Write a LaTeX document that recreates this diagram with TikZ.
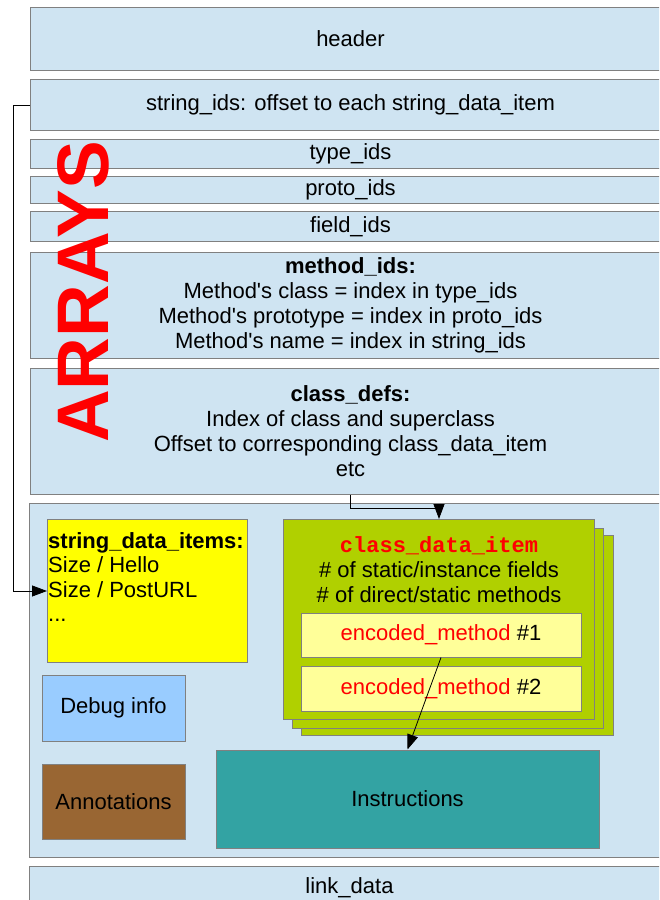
\documentclass[tikz,border=0pt]{standalone}
\usepackage{fontspec}
\setmainfont{Liberation Sans}
\newfontfamily\codefont{Liberation Mono}
\definecolor{dexblue}{RGB}{207,228,242}
\definecolor{dexgray}{RGB}{128,128,128}
\definecolor{dexgreen}{RGB}{176,208,0}
\definecolor{dexpale}{RGB}{255,255,153}
\definecolor{dexdebug}{RGB}{153,204,255}
\definecolor{dexbrown}{RGB}{153,102,51}
\definecolor{dexteal}{RGB}{51,163,163}
\definecolor{dexyellow}{RGB}{255,255,0}
\usetikzlibrary{positioning}
\usetikzlibrary{arrows.meta}
\tikzset{
  every node/.style={font=\fontsize{22}{25}\selectfont},
  band/.style={draw=dexgray, fill=dexblue, line width=1pt, anchor=north west,
    minimum width=640, inner sep=0pt, align=center},
  part/.style={draw=dexgray, line width=1pt, inner sep=0pt},
  link/.style={line width=0.8pt, -{Triangle[length=15pt,width=11pt]}}
}

\begin{document}
\begin{tikzpicture}[x=1pt, y=-1pt]
  \useasboundingbox (0,0) rectangle (659,900);
  \clip (0,0) rectangle (659,900);

  % arrays
  \node [band, minimum height=63] (header) at (30,7) {header};
  \node [band, minimum height=51] (strids) at (30,79) {string\_ids: offset to each string\_data\_item};
  \node [band, minimum height=29] (typeids) at (30,139) {type\_ids};
  \node [band, minimum height=27] (protoids) at (30,176) {proto\_ids};
  \node [band, minimum height=30] (fieldids) at (30,211) {field\_ids};
  \node [band, minimum height=106] (methodids) at (30,252) {\textbf{method\_ids:}\\
    Method\textquotesingle s class = index in type\_ids\\
    Method\textquotesingle s prototype = index in proto\_ids\\
    Method\textquotesingle s name = index in string\_ids};
  \node [band, minimum height=126] (classdefs) at (30,368) {\textbf{class\_defs:}\\
    Index of class and superclass\\
    Offset to corresponding class\_data\_item\\
    etc};

  \node [rotate=90, text=red, inner sep=0pt, font=\fontsize{73}{73}\selectfont\bfseries] (arrays) at (83,292) {ARRAYS};

  % data section
  \node [band, minimum height=354] (data) at (29,503) {};
  \node [band, minimum height=42] (linkdata) at (29,866) {link\_data};

  \node [part, fill=dexyellow, anchor=north west, minimum width=200, minimum height=143] (sdi) at (47,519) {};
  \node [anchor=north west, align=left, inner sep=1pt, font=\fontsize{22}{24.5}\selectfont] (sditext) at ([yshift=-12]sdi.north west)
    {\textbf{string\_data\_items:}\\Size / Hello\\Size / PostURL\\...};

  \node [part, fill=dexdebug, minimum width=143, minimum height=66] (debug) at (113.5,708) {Debug info};
  \node [part, fill=dexbrown, minimum width=143, minimum height=75] (annot) at (113.5,801.5) {Annotations};
  \node [part, fill=dexteal, minimum width=383, minimum height=98] (instr) at (407.5,799) {Instructions};

  % class_data_item stack
  \node [part, fill=dexgreen, anchor=north west, minimum width=312, minimum height=200] (cdi3) at (301,535) {};
  \node [part, fill=dexgreen, anchor=north west, minimum width=311, minimum height=200] (cdi2) at (292,528) {};
  \node [part, fill=dexgreen, anchor=north west, minimum width=311, minimum height=200] (cdi) at (283,519) {};
  \node [below=17pt of cdi.north, align=center, inner sep=0pt] (cditext)
    {{\codefont\bfseries\fontsize{22}{25}\selectfont\textcolor{red}{class\_data\_item}}\\
     \# of static/instance fields\\\# of direct/static methods};
  \node [part, fill=dexpale, minimum width=280, minimum height=44] (em1) at (441,635) {\textcolor{red}{encoded\_method} \#1};
  \node [part, fill=dexpale, minimum width=280, minimum height=45] (em2) at (441,688.5) {\textcolor{red}{encoded\_method} \#2};

  % offsets
  \draw [link] (strids.west) -- ++(-17,0) |- (sdi.west);
  \draw [link] (classdefs.south) -- ++(0,13) -| (cdi.north);
  \draw [link] (em1.south) -- (instr.north);
\end{tikzpicture}
\end{document}
